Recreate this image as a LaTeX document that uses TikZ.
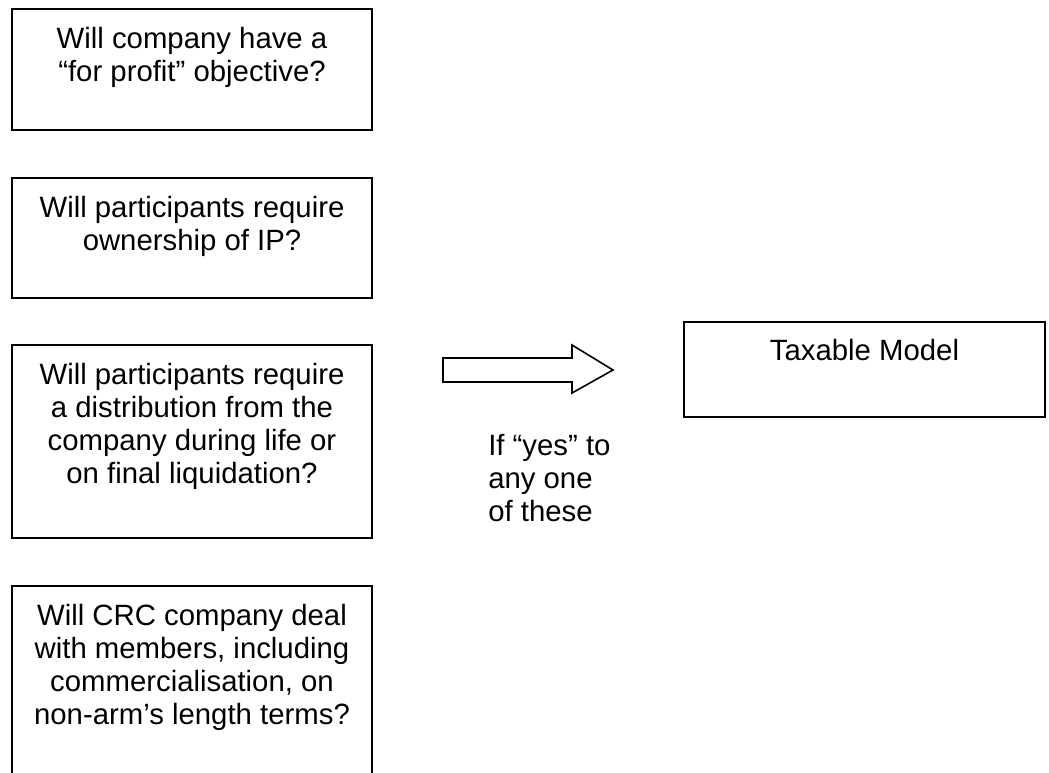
\documentclass[tikz,border=0pt]{standalone}
\usepackage{fontspec}
\setmainfont{Liberation Sans}
\usepackage{tikz}

\begin{document}
\begin{tikzpicture}[x=0.75pt,y=0.75pt,yscale=-1,xscale=1,
  qbox/.style={draw=black,line width=1.2pt},
  qtext/.style={font=\fontsize{22}{24.75}\selectfont,align=center,inner sep=0pt,anchor=north}]
%set diagram size to the page
\useasboundingbox (0,0) rectangle (1049,773);

%Shape: Rectangle
\draw [qbox] (12,9) rectangle (372,130) ;
%Shape: Rectangle
\draw [qbox] (12,178) rectangle (372,298) ;
%Shape: Rectangle
\draw [qbox] (12,345) rectangle (372,538) ;
%Shape: Rectangle (runs off the page)
\draw [qbox] (12,774) -- (12,586) -- (372,586) -- (372,774) ;
%Shape: Rectangle
\draw [qbox] (684,322) rectangle (1045,417) ;
%Right Arrow
\draw [qbox,line join=miter] (443,358) -- (572,358) -- (572,345) -- (613,370) -- (572,393) -- (572,382) -- (443,382) -- cycle ;

% Text Node
\node (profit) [qtext] at (192,27) {Will company have a\\“for profit” objective?};
% Text Node
\node (ip) [qtext] at (192,196) {Will participants require\\ownership of IP?};
% Text Node
\node (distrib) [qtext] at (192,363) {Will participants require\\a distribution from the\\company during life or\\on final liquidation?};
% Text Node
\node (crc) [qtext] at (192,604) {Will CRC company deal\\with members, including\\commercialisation, on\\non-arm’s length terms?};
% Text Node
\node (taxable) [qtext] at (864.5,339) {Taxable Model};
% Text Node
\node (ifyes) [qtext,align=left,anchor=north west] at (488,434) {If “yes” to\\any one\\of these};

\end{tikzpicture}
\end{document}
